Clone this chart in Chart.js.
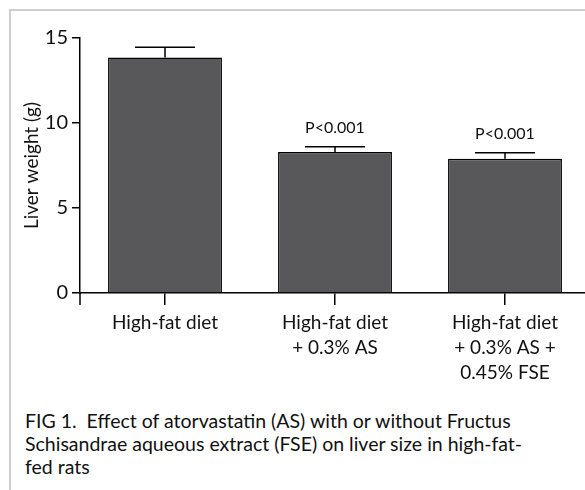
<!DOCTYPE html>
<html>
<head>
<meta charset="utf-8">
<script src="https://cdn.jsdelivr.net/npm/chart.js@4"></script>
<style>
  html, body { margin: 0; padding: 0; background: #fff; }
  body { width: 585px; height: 490px; overflow: hidden; position: relative; }
  #frame { position: absolute; left: 9px; top: 9px; right: 0; bottom: 0;
           border-top: 2px solid #cfcfcf; border-left: 2px solid #cfcfcf; }
  #chart { position: absolute; left: 0; top: 0; }
  #caption { position: absolute; left: 25px; top: 409px; font-family: Lato, sans-serif;
             font-size: 19.5px; line-height: 23px; color: #111; white-space: nowrap; }
</style>
</head>
<body>
<div id="frame"></div>
<canvas id="chart" width="590" height="400"></canvas>
<div id="caption">FIG 1.&nbsp; Effect of atorvastatin (AS) with or without Fructus<br>Schisandrae aqueous extract (FSE) on liver size in high-fat-<br>fed rats</div>
<script>
// data
const groups = ["High-fat diet", ["High-fat diet", "+ 0.3% AS"], ["High-fat diet", "+ 0.3% AS +", "0.45% FSE"]];
const liverWeight = [13.85, 8.3, 7.9];
const liverSem = [0.6, 0.3, 0.35];
const pValues = ["", "P<0.001", "P<0.001"];
const yTicks = [0, 5, 10, 15];

const FONT = "Lato, sans-serif";

// upper error bars + p-value labels
const errorBars = {
  id: 'errorBars',
  afterDatasetsDraw(chart) {
    const ctx = chart.ctx;
    const x = chart.scales.x, y = chart.scales.y;
    ctx.save();
    ctx.strokeStyle = '#000';
    ctx.lineWidth = 1.5;
    liverWeight.forEach((v, i) => {
      const cx = x.getPixelForValue(i);
      const top = y.getPixelForValue(v + liverSem[i]);
      const base = y.getPixelForValue(v);
      ctx.beginPath();
      ctx.moveTo(cx, base);
      ctx.lineTo(cx, top);
      ctx.moveTo(cx - 30, top);
      ctx.lineTo(cx + 30, top);
      ctx.stroke();
      if (pValues[i]) {
        ctx.fillStyle = '#111';
        ctx.font = '16px ' + FONT;
        ctx.textAlign = 'center';
        ctx.textBaseline = 'alphabetic';
        ctx.fillText(pValues[i], cx, top - 14);
      }
    });
    // y axis runs a little past zero, prism style
    const a = chart.chartArea;
    ctx.beginPath();
    ctx.moveTo(a.left, a.bottom);
    ctx.lineTo(a.left, a.bottom + 12);
    ctx.stroke();
    ctx.restore();
  }
};

new Chart(document.getElementById('chart').getContext('2d'), {
  type: 'bar',
  data: {
    labels: groups,
    datasets: [{
      data: liverWeight,
      backgroundColor: '#58585a',
      borderColor: '#000',
      borderWidth: 1.5,
      barPercentage: 0.67,
      categoryPercentage: 1
    }]
  },
  options: {
    responsive: false,
    animation: false,
    layout: { padding: { top: 38, left: 0, right: 0, bottom: 0 } },
    plugins: { legend: { display: false }, tooltip: { enabled: false } },
    scales: {
      x: {
        grid: { drawOnChartArea: false, offset: false, tickLength: 12, color: '#000', lineWidth: 1.5 },
        border: { color: '#000', width: 1.5 },
        ticks: { color: '#111', padding: 5, maxRotation: 0, autoSkip: false,
                 font: { family: FONT, size: 19, lineHeight: 1.32 } },
        afterFit(s) { s.height = 107; }
      },
      y: {
        min: 0, max: 15,
        afterBuildTicks(s) { s.ticks = yTicks.map(v => ({ value: v })); },
        grid: { drawOnChartArea: false, tickLength: 8, color: '#000', lineWidth: 1.5 },
        border: { color: '#000', width: 1.5 },
        ticks: { color: '#111', padding: 4, font: { family: FONT, size: 20 } },
        title: { display: true, text: 'Liver weight (g)', color: '#111',
                 font: { family: FONT, size: 19 }, padding: { top: 20 } },
        afterFit(s) { s.width = 80; }
      }
    }
  },
  plugins: [errorBars]
});
</script>
</body>
</html>
